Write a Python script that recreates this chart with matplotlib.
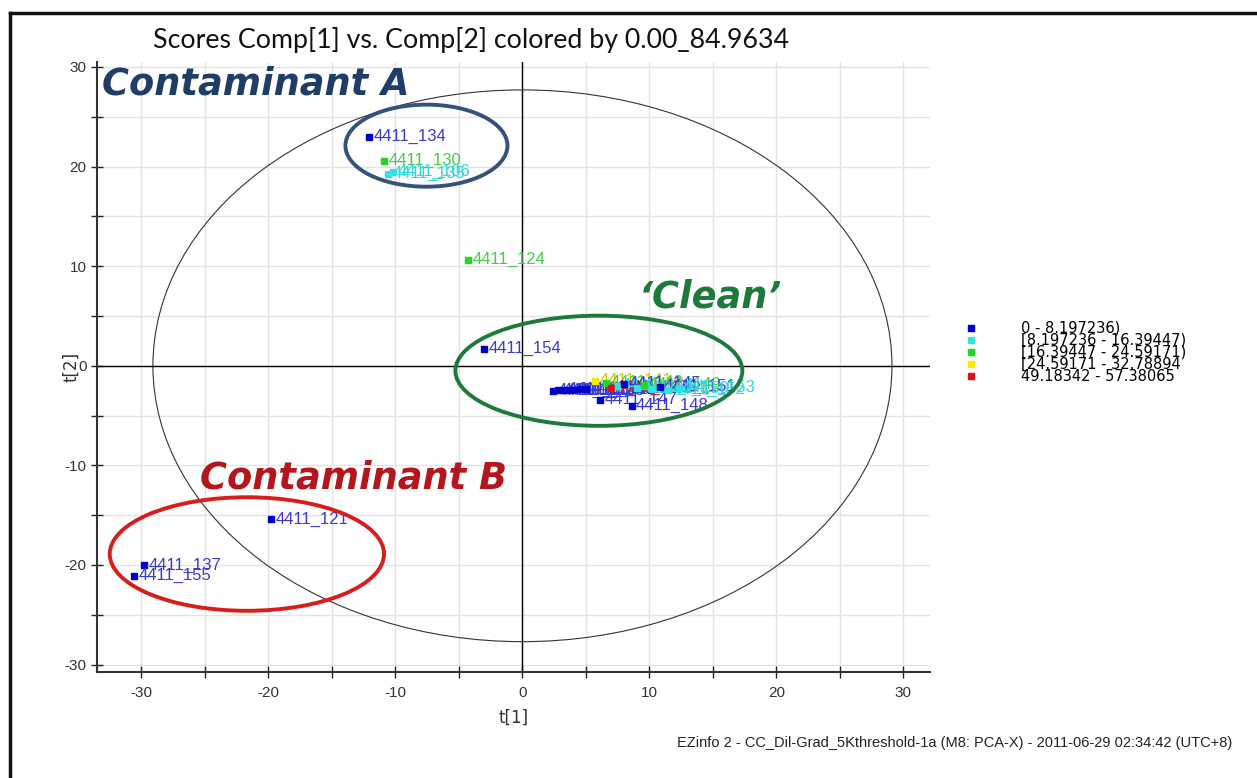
import numpy as np
import matplotlib
matplotlib.use("Agg")
import matplotlib.pyplot as plt
from matplotlib.patches import Ellipse
from matplotlib.lines import Line2D
from matplotlib.ticker import MultipleLocator, FuncFormatter

# colour classes of the score values
class_labels = ["0 - 8.197236)", "[8.197236 - 16.39447)", "[16.39447 - 24.59171)",
                "[24.59171 - 32.78894", "49.18342 - 57.38065"]
marker_colors = ["#0000cc", "#33e0e6", "#22d922", "#eeee00", "#dd1111"]
text_colors = ["#3a3acc", "#33d6dd", "#44cc44", "#cccc00", "#cc2222"]

# score points: t[1], t[2], class index, label
pt_t1 = [-12.1, -10.9, -10.6, -10.2, -4.25, -3.0, -19.8, -29.8, -30.6,
         2.4, 2.8, 3.2, 3.6, 4.0, 4.5, 5.0, 5.75, 6.1, 6.6, 7.0, 7.5, 8.0,
         8.6, 9.0, 9.6, 10.2, 10.8, 11.5, 12.3]
pt_t2 = [23.0, 20.6, 19.3, 19.5, 10.65, 1.7, -15.4, -20.0, -21.1,
         -2.5, -2.45, -2.4, -2.45, -2.4, -2.35, -2.3, -1.5, -3.4, -1.7, -2.2, -2.0, -1.8,
         -4.0, -2.2, -1.9, -2.3, -2.1, -2.4, -2.2]
pt_cls = [0, 2, 1, 1, 2, 0, 0, 0, 0,
          0, 0, 0, 0, 0, 0, 0, 3, 0, 2, 4, 1, 0,
          0, 1, 2, 1, 0, 1, 1]
pt_names = ["4411_134", "4411_130", "4411_135", "4411_106", "4411_124", "4411_154",
            "4411_121", "4411_137", "4411_155",
            "4411_156", "4411_157", "4411_158", "4411_159", "4411_160", "4411_161",
            "4411_162", "4411_141", "4411_147", "4411_142", "4411_143", "4411_144",
            "4411_145", "4411_148", "4411_146", "4411_149", "4411_150", "4411_151",
            "4411_152", "4411_153"]

# Hotelling ellipse radii
t2_rx, t2_ry = 29.1, 27.7

fig = plt.figure(figsize=(12.57, 7.78), dpi=100)
ax = fig.add_axes([0.0772, 0.1362, 0.6627, 0.7841])
ax.set_xlim(-33.5, 32.1)
ax.set_ylim(-30.75, 30.5)

ax.grid(True, color="#e3e3e3", lw=1)
ax.set_axisbelow(True)
ax.xaxis.set_major_locator(MultipleLocator(5))
ax.yaxis.set_major_locator(MultipleLocator(5))
fmt = FuncFormatter(lambda v, p: "%d" % v if abs(v) % 10 < 1e-6 else "")
ax.xaxis.set_major_formatter(fmt)
ax.yaxis.set_major_formatter(fmt)
ax.tick_params(direction="inout", length=8, width=1, colors="#222222",
               labelsize=11, labelcolor="#333333")
ax.tick_params(axis="x", pad=6)
for s in ["top", "right"]:
    ax.spines[s].set_visible(False)
for s in ["left", "bottom"]:
    ax.spines[s].set_color("#333333")
    ax.spines[s].set_linewidth(1.5)

ax.axhline(0, color="black", lw=1)
ax.axvline(0, color="black", lw=1)

ax.add_patch(Ellipse((0, 0), 2 * t2_rx, 2 * t2_ry, fill=False, ec="#333333", lw=0.8))

for x, y, c, n in zip(pt_t1, pt_t2, pt_cls, pt_names):
    ax.plot(x, y, "s", ms=5, color=marker_colors[c], zorder=4)
    ax.text(x + 0.35, y, n, color=text_colors[c], fontsize=12, va="center",
            family="Liberation Sans", zorder=4)

# annotation rings and labels
ax.add_patch(Ellipse((-7.56, 22.1), 12.76, 8.24, fill=False, ec="#35527a", lw=2.8, zorder=5))
ax.add_patch(Ellipse((6.02, -0.5), 22.6, 11.06, fill=False, ec="#1e7a3c", lw=2.8, zorder=5))
ax.add_patch(Ellipse((-21.7, -18.9), 21.6, 11.4, fill=False, ec="#d91c1c", lw=2.8, zorder=5))

ax.text(-33.1, 28.25, "Contaminant A", color="#1f3d66", fontsize=26.5, fontweight="bold",
        style="italic", va="center", zorder=6)
ax.text(-25.4, -11.25, "Contaminant B", color="#b3161c", fontsize=26.5, fontweight="bold",
        style="italic", va="center", zorder=6)
ax.text(9.2, 6.9, "\u2018Clean\u2019", color="#1e7a3c", fontsize=26.5, fontweight="bold",
        style="italic", va="center", zorder=6)

ax.set_xlabel("t[1]", fontsize=12, color="#333333", labelpad=6)
ax.set_ylabel("t[2]", fontsize=12, color="#333333", labelpad=-11)
for lbl in ax.get_xticklabels() + ax.get_yticklabels():
    lbl.set_family("Liberation Sans")

fig.text(0.375, 0.948, "Scores Comp[1] vs. Comp[2] colored by 0.00_84.9634",
         ha="center", va="center", fontsize=19.3, family="Lato", color="#111111")

handles = [Line2D([], [], marker="s", ls="", ms=5, color=c) for c in marker_colors]
fig.legend(handles, class_labels, loc="upper left", bbox_to_anchor=(0.762, 0.597),
           frameon=False, handlelength=0.8, handletextpad=3.0,
           labelspacing=-0.2, borderpad=0, prop={"family": "DejaVu Sans", "size": 10.5})

fig.text(0.98, 0.045, "EZinfo 2 - CC_Dil-Grad_5Kthreshold-1a (M8: PCA-X) - 2011-06-29 02:34:42 (UTC+8)",
         ha="right", va="center", fontsize=10.5, family=["Liberation Sans Narrow", "Liberation Sans"],
         color="#222222")

# page frame on top and left
fig.add_artist(Line2D([0.0079, 1.0], [0.9833, 0.9833], color="#111111", lw=2.5))
fig.add_artist(Line2D([0.0079, 0.0079], [0.0, 0.9833], color="#111111", lw=2.5))

fig.savefig("out.png", dpi=100)
